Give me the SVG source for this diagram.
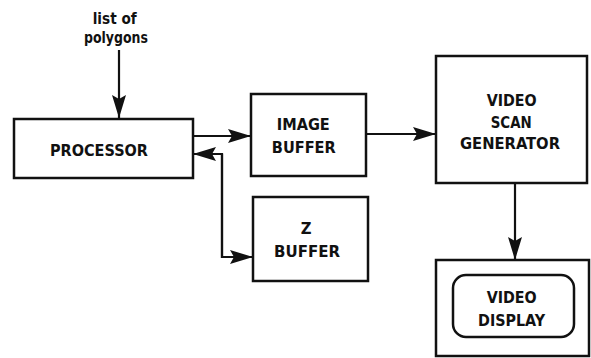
<svg xmlns="http://www.w3.org/2000/svg" width="591" height="358" viewBox="0 0 591 358">
<defs>
<marker id="ah" markerUnits="userSpaceOnUse" markerWidth="26" markerHeight="16" refX="23" refY="7" orient="auto">
<path d="M0,0 L23,7 L0,14 L4,7 Z" fill="#111"/>
</marker>
</defs>
<style>
.box{fill:#fff;stroke:#111;stroke-width:2.5}
.ln{fill:none;stroke:#111;stroke-width:2.2}
text{font-family:"DejaVu Sans Condensed","DejaVu Sans",sans-serif;font-stretch:condensed;font-weight:bold;font-size:16.5px;fill:#111;text-anchor:middle}
</style>
<rect width="591" height="358" fill="#fff"/>
<g id="connectors">
<line class="ln" x1="119" y1="50" x2="119" y2="118" marker-end="url(#ah)"/>
<line class="ln" x1="193" y1="136" x2="251" y2="136" marker-end="url(#ah)"/>
<polyline class="ln" points="253,257 222,257 222,154 193,154" marker-end="url(#ah)"/>
<polyline class="ln" points="222,154 222,257 253,257" marker-end="url(#ah)"/>
<line class="ln" x1="366" y1="134" x2="436" y2="134" marker-end="url(#ah)"/>
<line class="ln" x1="515" y1="183" x2="515" y2="260" marker-end="url(#ah)"/>
</g>
<g id="input-label">
<text x="114.7" y="24" textLength="44" lengthAdjust="spacingAndGlyphs">list of</text>
<text x="116" y="42.5" textLength="64" lengthAdjust="spacingAndGlyphs">polygons</text>
</g>
<g id="processor">
<rect class="box" x="14" y="119" width="179" height="59"/>
<text x="99" y="156" textLength="98" lengthAdjust="spacingAndGlyphs">PROCESSOR</text>
</g>
<g id="image-buffer">
<rect class="box" x="251" y="94" width="115" height="82"/>
<text x="303.3" y="130" textLength="53" lengthAdjust="spacingAndGlyphs">IMAGE</text>
<text x="303.8" y="152.5" textLength="64" lengthAdjust="spacingAndGlyphs">BUFFER</text>
</g>
<g id="z-buffer">
<rect class="box" x="253" y="197" width="115" height="84"/>
<text x="306.2" y="233.5">Z</text>
<text x="307" y="256.5" textLength="66" lengthAdjust="spacingAndGlyphs">BUFFER</text>
</g>
<g id="video-scan-generator">
<rect class="box" x="436" y="56" width="151" height="127"/>
<text x="511.7" y="106" textLength="50" lengthAdjust="spacingAndGlyphs">VIDEO</text>
<text x="511.2" y="128" textLength="41" lengthAdjust="spacingAndGlyphs">SCAN</text>
<text x="510" y="149" textLength="100" lengthAdjust="spacingAndGlyphs">GENERATOR</text>
</g>
<g id="video-display">
<rect class="box" x="436" y="260" width="153" height="96"/>
<rect class="box" x="453" y="275" width="121" height="62" rx="13"/>
<text x="511.7" y="303" textLength="50" lengthAdjust="spacingAndGlyphs">VIDEO</text>
<text x="511.5" y="326" textLength="67" lengthAdjust="spacingAndGlyphs">DISPLAY</text>
</g>
</svg>
